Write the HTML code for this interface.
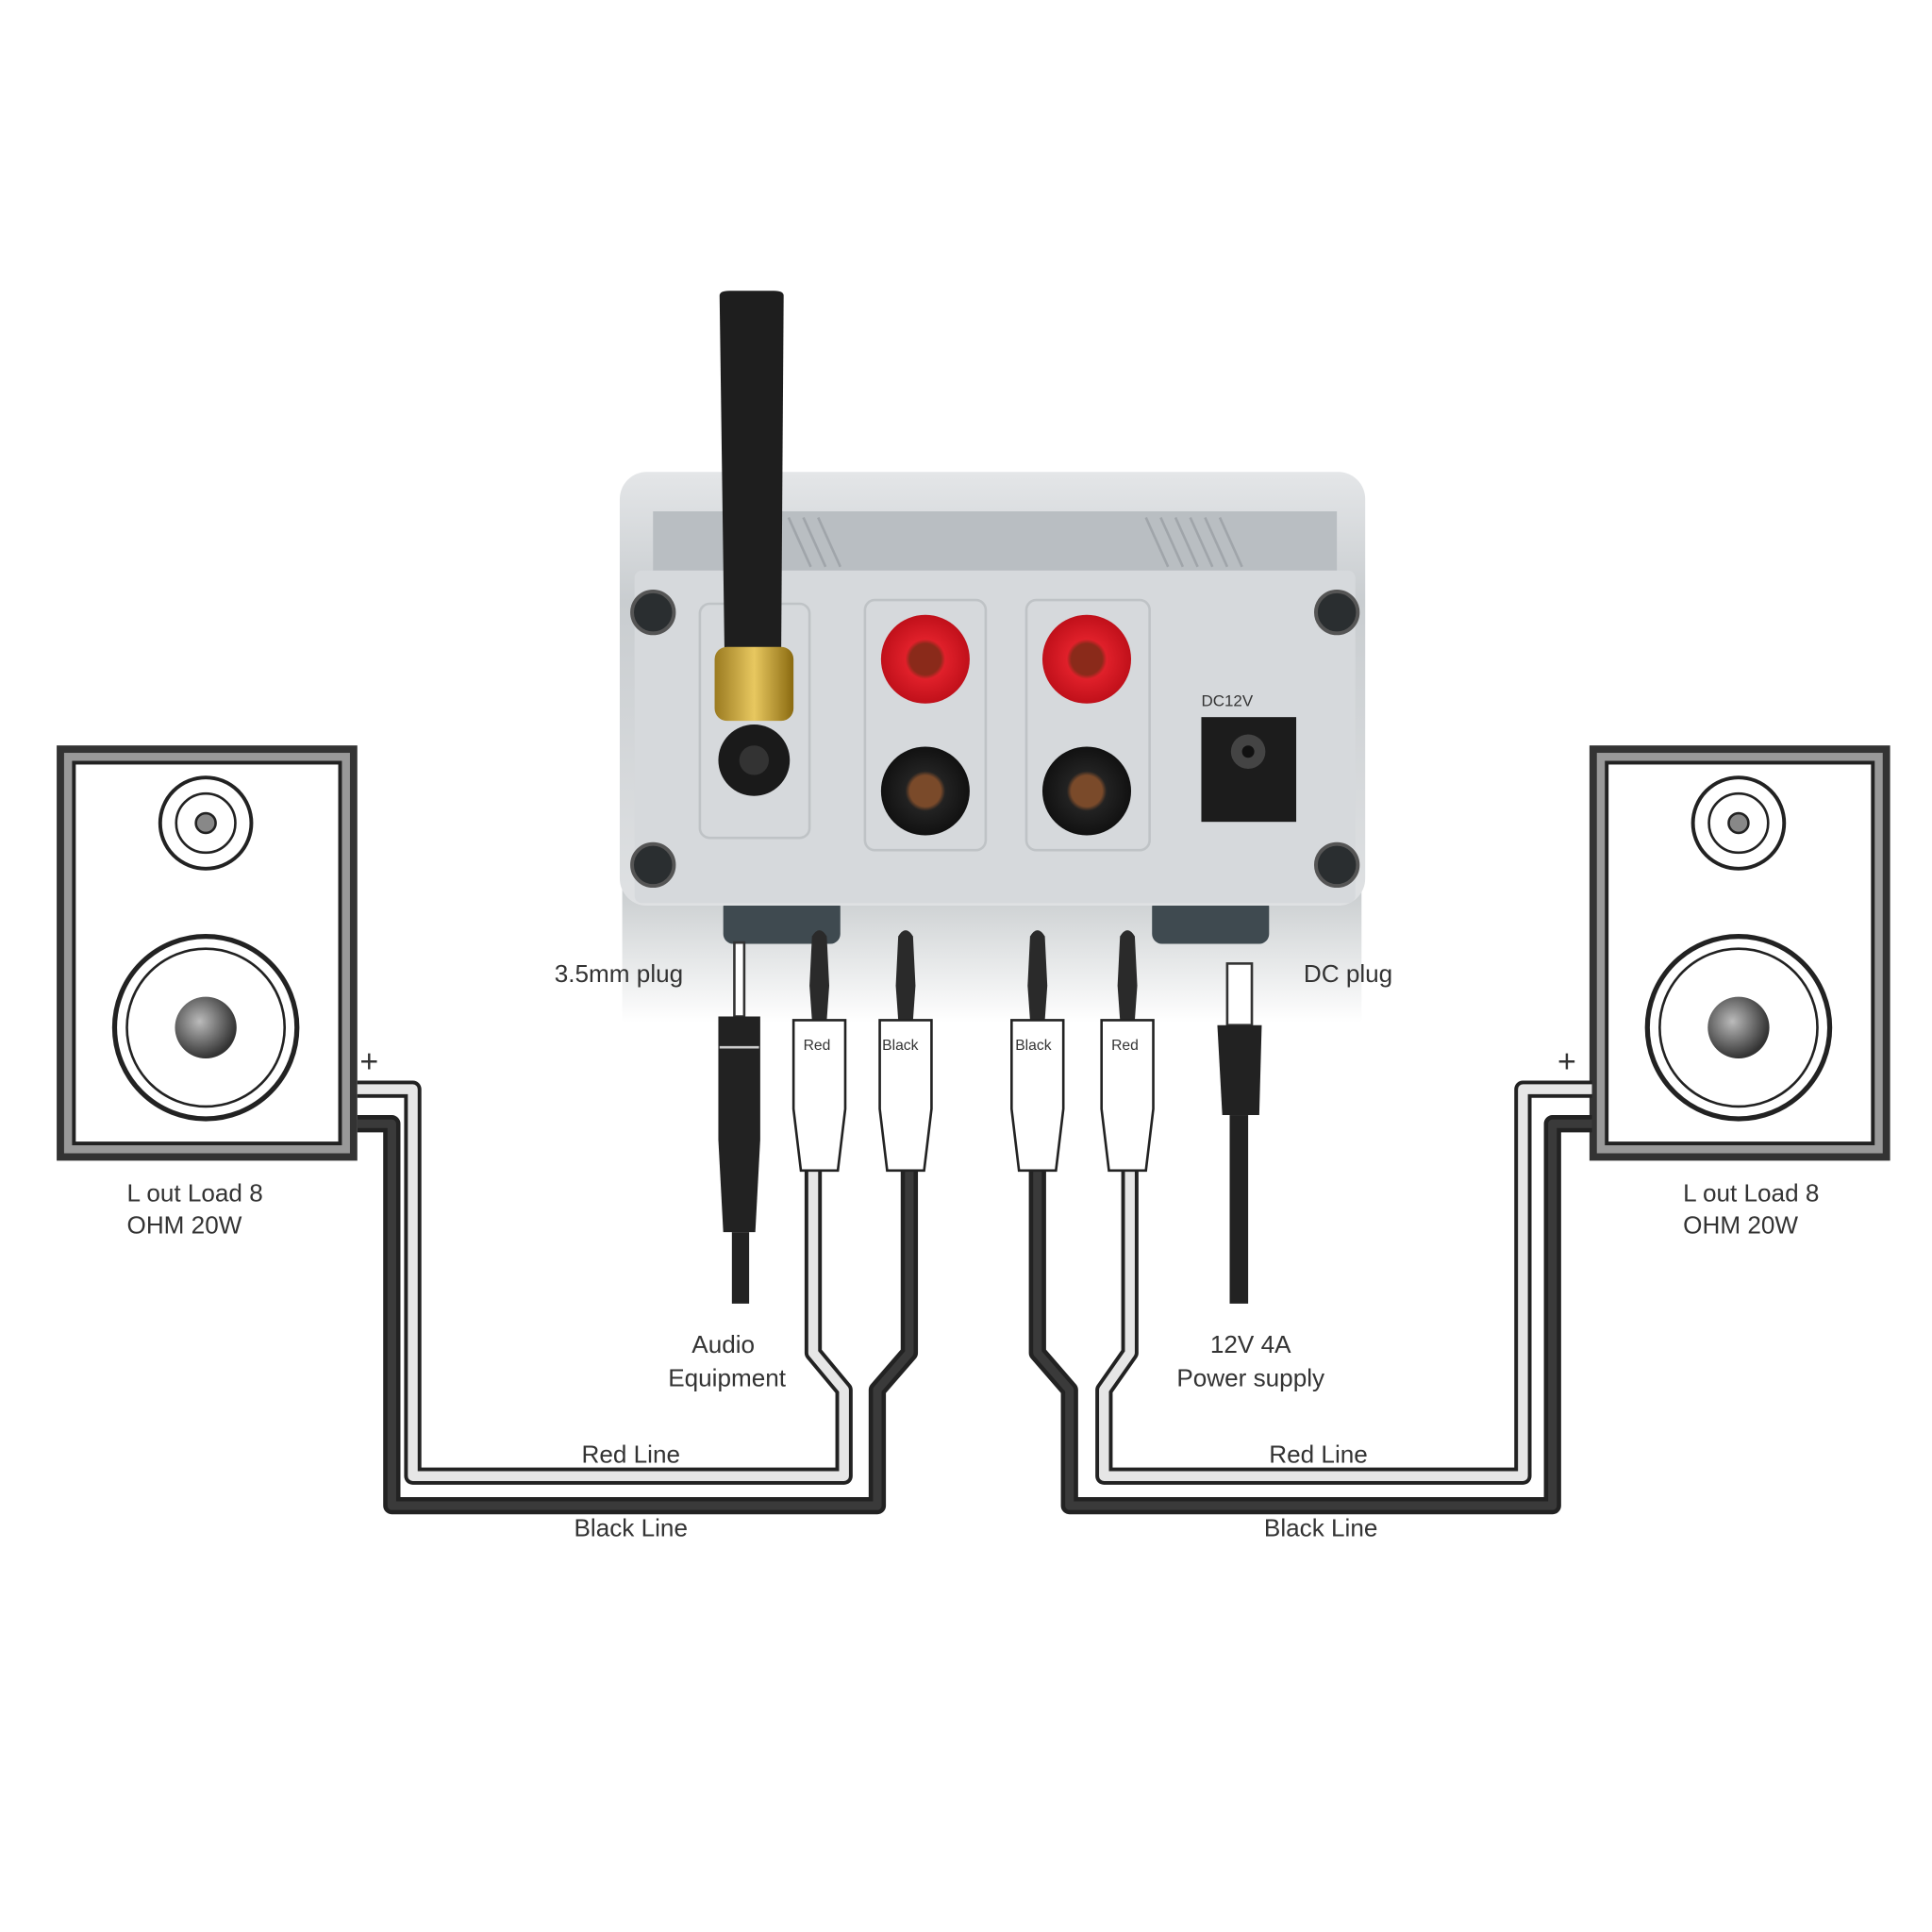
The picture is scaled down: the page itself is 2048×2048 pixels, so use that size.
<!DOCTYPE html>
<html><head><meta charset="utf-8"><style>
html,body{margin:0;padding:0;background:#fff;}
svg{display:block;}
text{font-family:"Liberation Sans",sans-serif;fill:#333;}
</style></head><body>
<svg width="2048" height="2048" viewBox="0 0 1568 1568" xmlns="http://www.w3.org/2000/svg">
<defs>
<linearGradient id="body" x1="0" y1="0" x2="0" y2="1">
<stop offset="0" stop-color="#e4e6e8"/><stop offset="0.3" stop-color="#c9cdd0"/><stop offset="1" stop-color="#dfe1e3"/></linearGradient>
<linearGradient id="shadow" x1="0" y1="0" x2="0" y2="1">
<stop offset="0" stop-color="#c8ccce"/><stop offset="1" stop-color="#ffffff"/></linearGradient>
<radialGradient id="red" cx="0.5" cy="0.5" r="0.5"><stop offset="0.35" stop-color="#8a2a1a"/><stop offset="0.45" stop-color="#e0202a"/><stop offset="1" stop-color="#c0101a"/></radialGradient>
<radialGradient id="blk" cx="0.5" cy="0.5" r="0.5"><stop offset="0.35" stop-color="#7a4a2a"/><stop offset="0.45" stop-color="#222"/><stop offset="1" stop-color="#111"/></radialGradient>
<radialGradient id="dome" cx="0.4" cy="0.4" r="0.6"><stop offset="0" stop-color="#bbb"/><stop offset="1" stop-color="#333"/></radialGradient>
<linearGradient id="gold" x1="0" y1="0" x2="1" y2="0"><stop offset="0" stop-color="#9a7a20"/><stop offset="0.5" stop-color="#e8c860"/><stop offset="1" stop-color="#8a6a10"/></linearGradient>
</defs>
<rect x="505" y="720" width="600" height="110" fill="url(#shadow)"/>
<rect x="587" y="728" width="95" height="38" rx="8" fill="#3f4a50"/>
<rect x="935" y="728" width="95" height="38" rx="8" fill="#3f4a50"/>
<rect x="503" y="383" width="605" height="352" rx="22" fill="url(#body)"/>
<rect x="515" y="463" width="585" height="270" rx="6" fill="#d6d9dc"/>
<rect x="530" y="415" width="555" height="48" fill="#b9bec2"/>
<g stroke="#a0a5aa" stroke-width="2">
<line x1="640" y1="420" x2="658" y2="460"/><line x1="652" y1="420" x2="670" y2="460"/><line x1="664" y1="420" x2="682" y2="460"/>
<line x1="930" y1="420" x2="948" y2="460"/><line x1="942" y1="420" x2="960" y2="460"/><line x1="954" y1="420" x2="972" y2="460"/><line x1="966" y1="420" x2="984" y2="460"/><line x1="978" y1="420" x2="996" y2="460"/><line x1="990" y1="420" x2="1008" y2="460"/></g>
<g fill="none" stroke="#bfc3c6" stroke-width="2">
<rect x="568" y="490" width="89" height="190" rx="8"/>
<rect x="702" y="487" width="98" height="203" rx="8"/>
<rect x="833" y="487" width="100" height="203" rx="8"/>
</g>
<g fill="#2a2e30" stroke="#555" stroke-width="3">
<circle cx="530" cy="497" r="17"/><circle cx="1085" cy="497" r="17"/>
<circle cx="530" cy="702" r="17"/><circle cx="1085" cy="702" r="17"/></g>
<circle cx="751" cy="535" r="36" fill="url(#red)"/><circle cx="882" cy="535" r="36" fill="url(#red)"/>
<circle cx="751" cy="642" r="36" fill="url(#blk)"/><circle cx="882" cy="642" r="36" fill="url(#blk)"/>
<circle cx="612" cy="617" r="29" fill="#1a1a1a"/><circle cx="612" cy="617" r="12" fill="#333"/>
<rect x="975" y="582" width="77" height="85" fill="#1c1c1c"/><circle cx="1013" cy="610" r="14" fill="#444"/><circle cx="1013" cy="610" r="5" fill="#111"/>
<text x="975" y="573" font-size="13" fill="#aaa">DC12V</text>
<path d="M584 240 Q584 236 592 236 L628 236 Q636 236 636 240 L634 530 L588 530 Z" fill="#1e1e1e"/>
<rect x="580" y="525" width="64" height="60" rx="10" fill="url(#gold)"/>
<g id="spk">
<rect x="46" y="605" width="244" height="337" fill="#333"/>
<rect x="52" y="611" width="232" height="325" fill="#999"/>
<rect x="60" y="619" width="216" height="309" fill="#fff" stroke="#222" stroke-width="3"/>
<circle cx="167" cy="668" r="37" fill="#fff" stroke="#222" stroke-width="3"/>
<circle cx="167" cy="668" r="24" fill="#fff" stroke="#222" stroke-width="2"/>
<circle cx="167" cy="668" r="8" fill="#888" stroke="#222" stroke-width="2"/>
<circle cx="167" cy="834" r="74" fill="#fff" stroke="#222" stroke-width="4"/>
<circle cx="167" cy="834" r="64" fill="#fff" stroke="#222" stroke-width="2"/>
<circle cx="167" cy="834" r="25" fill="url(#dome)"/>
</g>
<use href="#spk" x="1244"/>
<g fill="none" stroke-linejoin="round">
<path d="M290 884 L335 884 L335 1198 L685 1198 L685 1128 L660 1098 L660 950" stroke="#222" stroke-width="14"/>
<path d="M290 884 L335 884 L335 1198 L685 1198 L685 1128 L660 1098 L660 950" stroke="#e6e6e6" stroke-width="8"/>
<path d="M290 912 L318 912 L318 1222 L712 1222 L712 1128 L738 1098 L738 950" stroke="#222" stroke-width="14"/>
<path d="M290 912 L318 912 L318 1222 L712 1222 L712 1128 L738 1098 L738 950" stroke="#3a3a3a" stroke-width="7"/>
<path d="M1292 884 L1236 884 L1236 1198 L896 1198 L896 1128 L917 1098 L917 950" stroke="#222" stroke-width="14"/>
<path d="M1292 884 L1236 884 L1236 1198 L896 1198 L896 1128 L917 1098 L917 950" stroke="#e6e6e6" stroke-width="8"/>
<path d="M1292 912 L1260 912 L1260 1222 L868 1222 L868 1128 L842 1098 L842 950" stroke="#222" stroke-width="14"/>
<path d="M1292 912 L1260 912 L1260 1222 L868 1222 L868 1128 L842 1098 L842 950" stroke="#3a3a3a" stroke-width="7"/>
</g>
<g id="ban">
<path d="M659 760 Q665 750 671 760 L673 800 L671 828 L659 828 L657 800 Z" fill="#2a2a2a"/>
<path d="M644 828 L686 828 L686 900 L680 950 L650 950 L644 900 Z" fill="#fff" stroke="#222" stroke-width="2"/>
</g>
<use href="#ban" x="70"/><use href="#ban" x="177"/><use href="#ban" x="250"/>
<g font-family="Liberation Serif" font-size="12" fill="#555">
<text x="652" y="852">Red</text><text x="716" y="852">Black</text><text x="824" y="852">Black</text><text x="902" y="852">Red</text></g>
<rect x="596" y="765" width="8" height="60" fill="#fff" stroke="#333" stroke-width="2"/>
<path d="M583 825 L617 825 L617 925 L613 1000 L587 1000 L583 925 Z" fill="#222"/>
<line x1="584" y1="850" x2="616" y2="850" stroke="#ccc" stroke-width="2"/>
<rect x="594" y="1000" width="14" height="58" fill="#222"/>
<rect x="996" y="782" width="20" height="50" fill="#fff" stroke="#333" stroke-width="2"/>
<path d="M988 832 L1024 832 L1022 905 L992 905 Z" fill="#222"/>
<rect x="998" y="905" width="15" height="153" fill="#222"/>
<g font-size="20">
<text x="450" y="797">3.5mm plug</text>
<text x="1058" y="797">DC plug</text>
<text x="587" y="1098" text-anchor="middle">Audio</text>
<text x="590" y="1125" text-anchor="middle">Equipment</text>
<text x="1015" y="1098" text-anchor="middle">12V 4A</text>
<text x="1015" y="1125" text-anchor="middle">Power supply</text>
<text x="512" y="1187" text-anchor="middle">Red Line</text>
<text x="512" y="1247" text-anchor="middle">Black Line</text>
<text x="1070" y="1187" text-anchor="middle">Red Line</text>
<text x="1072" y="1247" text-anchor="middle">Black Line</text>
<text x="103" y="975">L  out Load 8</text>
<text x="103" y="1001">OHM 20W</text>
<text x="1366" y="975">L  out Load 8</text>
<text x="1366" y="1001">OHM 20W</text>
<text x="292" y="870" font-size="26">+</text>
<text x="1264" y="870" font-size="26">+</text>
</g>
</svg>
</body></html>
